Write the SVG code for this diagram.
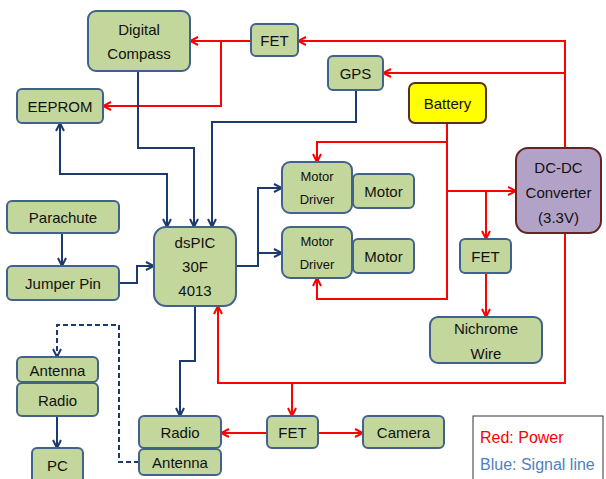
<svg xmlns="http://www.w3.org/2000/svg" width="606" height="479" viewBox="0 0 606 479">
<style>
.b{fill:#c3d69b;stroke:#41618f;stroke-width:2}
.t{font-family:"Liberation Sans",Arial,sans-serif;font-size:15px;fill:#111;text-anchor:middle;dominant-baseline:central}
.s{font-size:13px}
.r{fill:none;stroke:#ff0000;stroke-width:2}
.u{fill:none;stroke:#1c3a6e;stroke-width:2}
</style>
<defs>
<marker id="ar" viewBox="0 0 10 10" refX="9" refY="5" markerWidth="10" markerHeight="10" markerUnits="userSpaceOnUse" orient="auto"><path d="M1,1 L9,5 L1,9" fill="none" stroke="#ff0000" stroke-width="2"/></marker>
<marker id="ab" viewBox="0 0 10 10" refX="9" refY="5" markerWidth="10" markerHeight="10" markerUnits="userSpaceOnUse" orient="auto"><path d="M1,1 L9,5 L1,9" fill="none" stroke="#1c3a6e" stroke-width="2"/></marker>
<marker id="abs" viewBox="0 0 10 10" refX="9" refY="5" markerWidth="10" markerHeight="10" markerUnits="userSpaceOnUse" orient="auto-start-reverse"><path d="M1,1 L9,5 L1,9" fill="none" stroke="#1c3a6e" stroke-width="2"/></marker>
</defs>
<g id="connectors">
<path class="r" d="M251,41 H190" marker-end="url(#ar)"/>
<path class="r" d="M221,41 V106 H103" marker-end="url(#ar)"/>
<path class="r" d="M565,148 V41 H298" marker-end="url(#ar)"/>
<path class="r" d="M565,73 H383" marker-end="url(#ar)"/>
<path class="r" d="M447,123 V142 H317 V162" marker-end="url(#ar)"/>
<path class="r" d="M447,142 V299 H317 V278" marker-end="url(#ar)"/>
<path class="r" d="M447,191 H516" marker-end="url(#ar)"/>
<path class="r" d="M486,191 V239" marker-end="url(#ar)"/>
<path class="r" d="M486,273 V317" marker-end="url(#ar)"/>
<path class="r" d="M565,233 V383 H218 V306" marker-end="url(#ar)"/>
<path class="r" d="M292,383 V416" marker-end="url(#ar)"/>
<path class="r" d="M267,433 H221" marker-end="url(#ar)"/>
<path class="r" d="M318,433 H363" marker-end="url(#ar)"/>
<path class="u" d="M138,71 V148 H194 V227" marker-end="url(#ab)"/>
<path class="u" d="M356,90 V122 H212 V227" marker-end="url(#ab)"/>
<path class="u" d="M60,123 V174 H167 V227" marker-start="url(#abs)" marker-end="url(#abs)"/>
<path class="u" d="M62,233 V266" marker-end="url(#ab)"/>
<path class="u" d="M119,283 H137 V266 H154" marker-end="url(#ab)"/>
<path class="u" d="M236,266 H258 V188 H282" marker-end="url(#ab)"/>
<path class="u" d="M258,253 H282" marker-end="url(#ab)"/>
<path class="u" d="M195,306 V361 H180 V416" marker-end="url(#ab)"/>
<path class="u" d="M57,416 V448" marker-end="url(#ab)"/>
<path class="u" d="M139,462 H119 V325 H57 V357" stroke-dasharray="5,3" marker-end="url(#ab)"/>
</g>
<g id="compass"><rect class="b" x="88" y="11" width="102" height="60" rx="8"/><text class="t" x="139" y="29">Digital</text><text class="t" x="139" y="53">Compass</text></g>
<g id="fet1"><rect class="b" x="251" y="24" width="47" height="32" rx="5"/><text class="t" x="274.5" y="40">FET</text></g>
<g id="eeprom"><rect class="b" x="17" y="89" width="86" height="34" rx="5"/><text class="t" x="60" y="106">EEPROM</text></g>
<g id="gps"><rect class="b" x="328" y="56" width="55" height="34" rx="5"/><text class="t" x="355.5" y="73">GPS</text></g>
<g id="battery"><rect x="409" y="83" width="77" height="40" rx="6" fill="#ffff00" stroke="#5a2e25" stroke-width="2"/><text class="t" x="447.5" y="103">Battery</text></g>
<g id="dcdc"><rect x="516" y="148" width="85" height="85" rx="12" fill="#b3a2c7" stroke="#632523" stroke-width="2"/><text class="t" x="558.5" y="167">DC-DC</text><text class="t" x="558.5" y="192">Converter</text><text class="t" x="558.5" y="217">(3.3V)</text></g>
<g id="parachute"><rect class="b" x="7" y="201" width="112" height="32" rx="5"/><text class="t" x="63" y="217">Parachute</text></g>
<g id="jumper"><rect class="b" x="7" y="266" width="112" height="34" rx="5"/><text class="t" x="63" y="283">Jumper Pin</text></g>
<g id="dspic"><rect class="b" x="154" y="227" width="82" height="79" rx="12"/><text class="t" x="195" y="242">dsPIC</text><text class="t" x="195" y="266">30F</text><text class="t" x="195" y="290">4013</text></g>
<g id="driver1"><rect class="b" x="282" y="162" width="70" height="51" rx="8"/><text class="t s" x="317" y="176">Motor</text><text class="t s" x="317" y="199">Driver</text></g>
<g id="motor1"><rect class="b" x="353" y="174" width="61" height="34" rx="5"/><text class="t" x="383.5" y="191">Motor</text></g>
<g id="driver2"><rect class="b" x="282" y="227" width="70" height="51" rx="8"/><text class="t s" x="317" y="241">Motor</text><text class="t s" x="317" y="264">Driver</text></g>
<g id="motor2"><rect class="b" x="353" y="239" width="61" height="34" rx="5"/><text class="t" x="383.5" y="256">Motor</text></g>
<g id="fet2"><rect class="b" x="460" y="239" width="51" height="34" rx="5"/><text class="t" x="485.5" y="256">FET</text></g>
<g id="nichrome"><rect class="b" x="430" y="317" width="112" height="46" rx="8"/><text class="t" x="486" y="328">Nichrome</text><text class="t" x="486" y="353">Wire</text></g>
<g id="antennaL"><rect class="b" x="17" y="357" width="81" height="25" rx="5"/><text class="t" x="57.5" y="370">Antenna</text></g>
<g id="radioL"><rect class="b" x="17" y="383" width="81" height="33" rx="5"/><text class="t" x="57.5" y="400">Radio</text></g>
<g id="pc"><rect class="b" x="32" y="448" width="51" height="40" rx="5"/><text class="t" x="57.5" y="465">PC</text></g>
<g id="radio"><rect class="b" x="139" y="416" width="82" height="32" rx="5"/><text class="t" x="180" y="432">Radio</text></g>
<g id="antenna"><rect class="b" x="139" y="449" width="82" height="26" rx="5"/><text class="t" x="180" y="462">Antenna</text></g>
<g id="fet3"><rect class="b" x="267" y="416" width="51" height="32" rx="5"/><text class="t" x="292.5" y="432">FET</text></g>
<g id="camera"><rect class="b" x="363" y="416" width="81" height="32" rx="5"/><text class="t" x="403.5" y="432">Camera</text></g>
<g id="legend"><rect x="473" y="416" width="130" height="70" fill="#fff" stroke="#333" stroke-width="1"/><text x="480" y="443" font-family="Liberation Sans,Arial,sans-serif" font-size="16" fill="#ff0000">Red: Power</text><text x="480" y="470" font-family="Liberation Sans,Arial,sans-serif" font-size="16" fill="#4f81bd">Blue: Signal line</text></g>
</svg>
